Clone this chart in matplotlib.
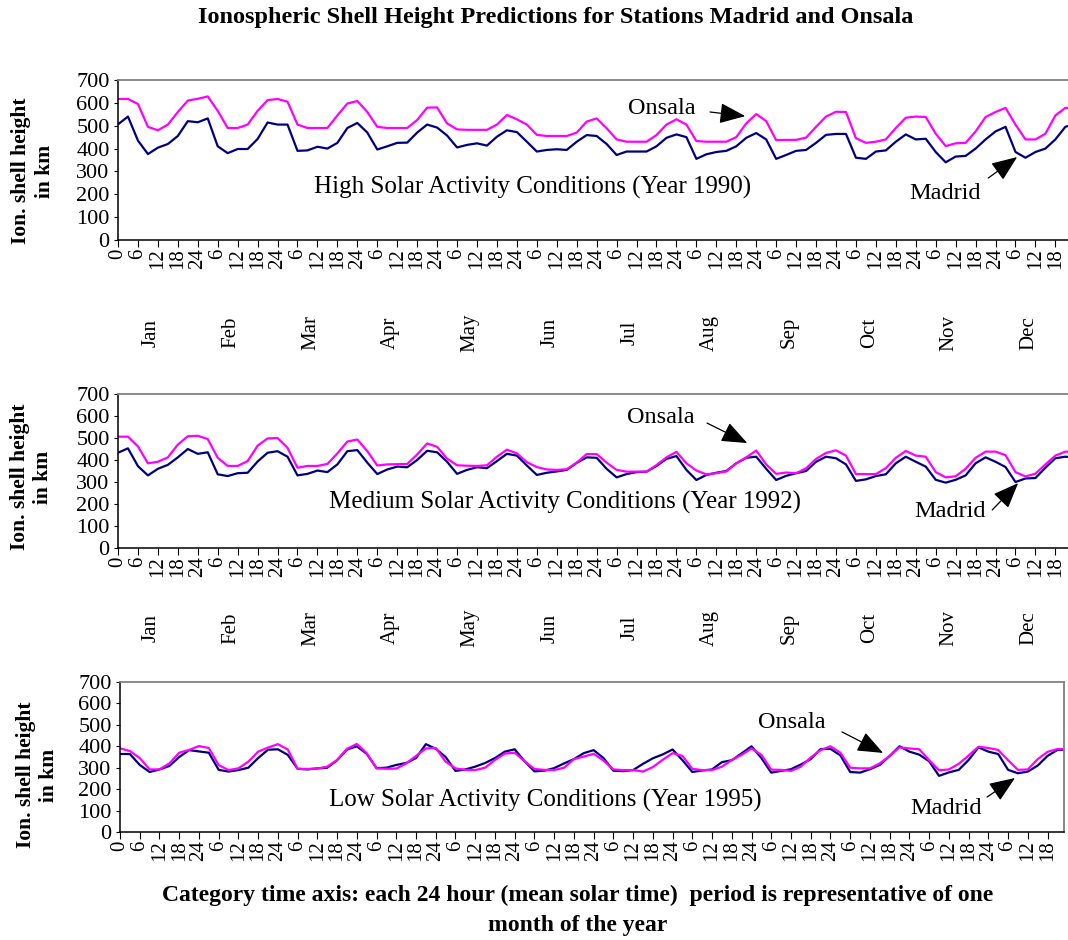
import numpy as np
import matplotlib.pyplot as plt

# ── Fuentes: serif tipo Times ───────────────────────────────
plt.rcParams["font.family"] = ["Liberation Serif", "DejaVu Serif"]

# ── Eje de categorías: cada mes = 24 horas, muestras cada 3 h ──
HORAS = np.r_[np.arange(0, 288, 3), 287]
MESES = ["Jan", "Feb", "Mar", "Apr", "May", "Jun",
         "Jul", "Aug", "Sep", "Oct", "Nov", "Dec"]
TICKS = np.arange(0, 288, 6)
TICK_LABELS = ["0" if h == 0 else str(h % 24 if h % 24 else 24) for h in TICKS]

# ── Alta actividad solar (1990) ─────────────────────────────
HIGH_ONSALA = [
    617, 617, 595, 495, 480, 505, 560, 610,
    618, 628, 565, 490, 490, 505, 565, 612,
    617, 605, 505, 490, 490, 490, 545, 597,
    608, 560, 495, 490, 490, 490, 525, 579,
    580, 510, 484, 482, 482, 482, 505, 547,
    528, 505, 460, 455, 455, 455, 470, 518,
    532, 489, 440, 430, 430, 430, 459, 505,
    528, 505, 433, 430, 430, 430, 450, 510,
    551, 520, 437, 438, 438, 448, 495, 540,
    561, 560, 445, 425, 430, 440, 490, 535,
    540, 538, 465, 411, 423, 425, 475, 538,
    560, 578, 505, 440, 440, 465, 545, 578,
    578,
]
HIGH_MADRID = [
    506, 540, 435, 376, 404, 420, 455, 520,
    515, 532, 410, 380, 398, 398, 442, 514,
    505, 505, 390, 392, 408, 400, 425, 490,
    512, 470, 396, 410, 425, 426, 470, 505,
    492, 457, 405, 416, 423, 413, 452, 480,
    472, 430, 387, 394, 397, 394, 430, 459,
    455, 420, 372, 387, 387, 387, 410, 447,
    462, 450, 355, 375, 385, 390, 410, 447,
    468, 440, 355, 372, 390, 394, 425, 460,
    464, 464, 360, 355, 387, 392, 430, 462,
    440, 443, 385, 340, 365, 368, 400, 440,
    475, 495, 385, 360, 385, 400, 440, 495,
    505,
]

# ── Actividad media (1992) ──────────────────────────────────
MED_ONSALA = [
    506, 506, 462, 385, 392, 412, 470, 508,
    510, 495, 410, 373, 373, 395, 465, 498,
    500, 455, 365, 373, 373, 382, 430, 484,
    493, 440, 375, 380, 381, 382, 425, 475,
    460, 406, 376, 374, 373, 376, 415, 447,
    430, 390, 368, 357, 355, 358, 388, 427,
    427, 388, 355, 347, 347, 347, 377, 412,
    437, 385, 352, 335, 340, 348, 385, 412,
    443, 380, 337, 343, 340, 362, 405, 432,
    444, 420, 336, 336, 336, 363, 410, 441,
    420, 415, 345, 321, 326, 360, 410, 438,
    438, 422, 345, 325, 338, 380, 420, 438,
    438,
]
MED_MADRID = [
    433, 453, 372, 330, 360, 378, 412, 450,
    428, 435, 335, 327, 340, 342, 393, 433,
    440, 415, 330, 337, 352, 345, 380, 440,
    445, 388, 336, 357, 370, 367, 400, 442,
    435, 392, 337, 355, 367, 363, 395, 428,
    420, 375, 332, 342, 348, 355, 387, 412,
    410, 360, 321, 336, 345, 347, 373, 405,
    418, 355, 309, 332, 342, 350, 385, 410,
    415, 360, 309, 328, 340, 350, 392, 415,
    408, 380, 305, 312, 327, 335, 385, 415,
    392, 370, 310, 297, 310, 330, 385, 412,
    392, 368, 300, 316, 318, 365, 408, 415,
    412,
]

# ── Baja actividad (1995) ───────────────────────────────────
LOW_ONSALA = [
    390, 378, 345, 292, 292, 320, 370, 383,
    401, 392, 312, 289, 297, 328, 375, 394,
    410, 385, 295, 294, 296, 305, 336, 388,
    411, 368, 297, 295, 296, 320, 355, 390,
    392, 328, 297, 290, 289, 300, 336, 366,
    370, 330, 294, 290, 289, 300, 340, 352,
    365, 333, 292, 289, 289, 282, 303, 337,
    368, 355, 295, 289, 289, 305, 336, 360,
    390, 360, 291, 290, 285, 305, 348, 382,
    400, 370, 300, 297, 297, 320, 355, 395,
    390, 386, 335, 288, 292, 318, 357, 398,
    392, 383, 335, 290, 292, 340, 374, 387,
    387,
]
LOW_MADRID = [
    364, 364, 313, 280, 292, 308, 350, 382,
    376, 370, 290, 282, 289, 300, 345, 384,
    386, 360, 295, 292, 297, 300, 335, 385,
    400, 365, 298, 300, 313, 322, 345, 410,
    388, 350, 285, 292, 305, 322, 345, 375,
    386, 330, 283, 286, 298, 320, 340, 368,
    382, 345, 286, 284, 289, 318, 344, 362,
    385, 335, 280, 287, 292, 326, 335, 367,
    400, 345, 277, 285, 293, 315, 340, 387,
    388, 358, 280, 277, 293, 313, 355, 400,
    375, 361, 330, 262, 278, 290, 336, 395,
    375, 364, 290, 274, 282, 310, 355, 383,
    383,
]

W, H = 1068, 940
ARROW = dict(arrowstyle="-|>,head_length=0.8,head_width=0.32",
             color="black", lw=0.9, mutation_scale=20,
             shrinkA=0, shrinkB=0)


def panel(fig, px_box, madrid, onsala, caption, cap_xy,
          on_xy, on_arrow, ma_xy, ma_arrow, month_y=None):
    """Dibuja un panel en una caja dada en píxeles (izq, arriba, der, abajo)."""
    l, t, r, b = px_box
    ax = fig.add_axes([l / W, 1 - b / H, (r - l) / W, (b - t) / H])

    ax.plot(HORAS, madrid, color="#000080", lw=1.6)
    ax.plot(HORAS, onsala, color="#ff00ff", lw=1.6)

    ax.set_xlim(0, 287)
    ax.set_ylim(0, 700)
    ax.set_yticks(range(0, 701, 100))
    ax.set_xticks(TICKS)
    ax.set_xticklabels(TICK_LABELS, rotation=90, fontsize=15)
    ax.tick_params(axis="y", labelsize=16, length=3, pad=3)
    ax.tick_params(axis="x", length=5, pad=1)

    for s in ("top", "right"):
        ax.spines[s].set_color("#808080")
        ax.spines[s].set_linewidth(1.3)
    for s in ("left", "bottom"):
        ax.spines[s].set_linewidth(1.1)

    ax.text(*cap_xy, caption, fontsize=18, ha="center", va="center")
    ax.text(*on_xy, "Onsala", fontsize=17.5, ha="center", va="center")
    ax.text(*ma_xy, "Madrid", fontsize=17.5, ha="center", va="center")
    ax.annotate("", xy=on_arrow[1], xytext=on_arrow[0], arrowprops=ARROW)
    ax.annotate("", xy=ma_arrow[1], xytext=ma_arrow[0], arrowprops=ARROW)

    if month_y is not None:
        tr = ax.get_xaxis_transform()
        for i, m in enumerate(MESES):
            ax.text(24 * i + 10, month_y, m, transform=tr, rotation=90,
                    fontsize=15, ha="center", va="center")
    return ax


fig = plt.figure(figsize=(W / 100, H / 100), dpi=100)

panel(fig, (118, 80, 1072, 240), HIGH_MADRID, HIGH_ONSALA,
      "High Solar Activity Conditions (Year 1990)", (124.6, 232),
      (163.7, 577), ((178.1, 560), (188.7, 542)),
      (248.9, 205), ((261.8, 271), (270.5, 363)), month_y=-0.58)

panel(fig, (118, 394, 1072, 548), MED_MADRID, MED_ONSALA,
      "Medium Solar Activity Conditions (Year 1992)", (134.5, 209),
      (163.4, 591), ((177.2, 568), (189.3, 477)),
      (250.4, 168), ((263.0, 173), (270.8, 295)), month_y=-0.52)

panel(fig, (120, 682, 1064, 832), LOW_MADRID, LOW_ONSALA,
      "Low Solar Activity Conditions (Year 1995)", (129.2, 149),
      (204.3, 513), ((219.5, 467), (232.0, 369)),
      (251.1, 112), ((263.6, 163), (272.1, 252)))

# ── Textos de la figura ─────────────────────────────────────
fig.text(556 / W, 1 - 18 / H,
         "Ionospheric Shell Height Predictions for Stations Madrid and Onsala",
         fontsize=17.5, fontweight="bold", ha="center", va="center")

for cx, cy in ((33, 171), (32, 477), (37, 775)):
    fig.text(cx / W, 1 - cy / H, "Ion. shell height\nin km",
             fontsize=15.5, fontweight="bold", rotation=90,
             ha="center", va="center", linespacing=1.2)

fig.text(578 / W, 1 - 895 / H,
         "Category time axis: each 24 hour (mean solar time)  period is representative of one",
         fontsize=17, fontweight="bold", ha="center", va="center")
fig.text(578 / W, 1 - 925 / H, "month of the year",
         fontsize=17, fontweight="bold", ha="center", va="center")

fig.savefig("out.png", dpi=100)
